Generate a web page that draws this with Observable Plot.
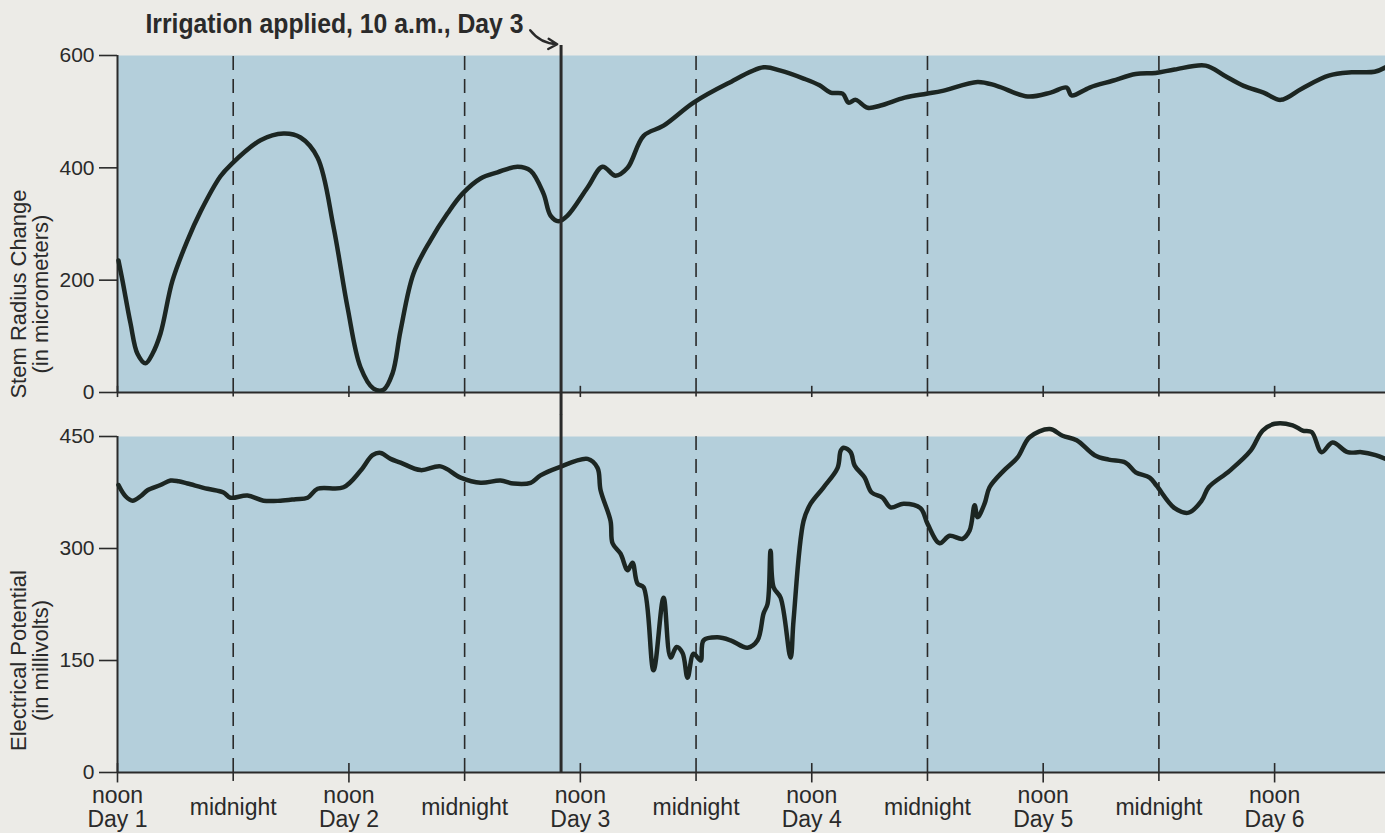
<!DOCTYPE html>
<html><head><meta charset="utf-8">
<script src="https://cdn.jsdelivr.net/npm/d3@7"></script>
<script src="https://cdn.jsdelivr.net/npm/@observablehq/plot@0.6"></script>
<style>
html,body{margin:0;padding:0;background:#ecebe7;}
#chart{width:1385px;height:833px;position:relative;overflow:hidden;background:#ecebe7;}
#chart svg{display:block;}
</style></head><body><div id="chart"></div>
<script>
// x = hours after noon of Day 1
const stemHours = [0.10,0.52,1.35,2.07,2.90,3.63,4.46,5.70,7.26,8.61,10.68,11.72,14.83,17.22,18.98,20.75,22.41,23.86,25.20,26.55,27.59,28.52,29.35,30.70,32.46,34.23,35.78,37.65,39.41,41.49,42.84,44.18,44.91,45.74,46.67,48.75,50.30,51.65,52.90,54.56,56.63,59.74,63.27,67.00,68.77,71.15,72.81,73.95,75.20,75.82,76.55,77.79,79.14,81.63,83.91,85.57,89.20,91.17,94.39,96.77,98.43,98.95,100.82,103.20,105.59,107.66,109.63,112.85,114.82,116.79,118.86,120.63,122.81,125.61,127.99,130.37,131.51];
const stemValues = [235,199,123,69,52,69,105,199,271,322,385,405,449,461,454,418,294,151,45,7,5,34,110,212,271,319,354,381,392,402,395,354,315,305,315,365,402,386,400,457,475,516,550,579,573,559,547,534,532,516,521,507,511,525,532,537,553,546,527,534,543,529,543,555,567,569,575,582,564,546,534,521,541,564,570,571,579];

const epHours = [0.10,0.83,1.56,2.39,3.11,4.46,5.50,6.33,7.26,9.33,10.99,11.72,13.48,15.14,16.91,18.46,19.71,20.75,23.44,25.20,26.45,27.28,28.32,29.35,31.43,33.50,35.58,37.65,39.72,41.07,42.84,43.87,45.64,48.75,49.78,50.10,51.13,51.34,52.17,52.90,53.41,53.93,54.56,55.59,56.63,57.36,57.98,58.60,59.12,59.74,60.47,60.78,62.23,63.58,65.34,66.38,67.00,67.42,67.73,68.04,68.77,69.80,70.11,71.15,71.88,73.23,74.68,75.00,75.31,76.03,76.45,77.48,78.21,79.35,80.17,81.52,83.28,84.01,85.26,86.29,87.64,88.37,88.89,89.20,89.92,90.44,91.89,93.35,94.59,96.67,98.01,99.47,101.33,102.79,104.55,105.59,107.04,107.77,109.63,111.08,112.43,113.16,115.33,117.51,118.76,120.00,121.87,122.91,123.84,124.87,126.01,127.57,129.02,130.47,131.51];
const epValues = [385,370,364,370,378,385,391,390,387,380,375,368,371,364,364,366,368,380,382,404,425,428,420,415,405,410,395,388,391,387,388,398,408,420,408,378,337,307,293,271,281,253,248,137,234,154,168,160,127,159,150,177,181,177,167,177,213,226,297,248,234,154,204,337,360,382,408,431,435,429,411,395,375,368,355,360,354,333,307,317,313,324,358,342,360,382,404,422,449,460,451,445,425,419,415,402,395,384,354,348,364,382,404,431,458,467,465,458,456,429,442,429,429,425,420];

const noonHours = [0, 24, 48, 72, 96, 120];
const midnightHours = [12, 36, 60, 84, 108];
const tickHours = [0, 12, 24, 36, 48, 60, 72, 84, 96, 108, 120];
const tickLabels = ["noon\nDay 1", "midnight", "noon\nDay 2", "midnight", "noon\nDay 3", "midnight", "noon\nDay 4", "midnight", "noon\nDay 5", "midnight", "noon\nDay 6"];
const stemTicks = [0, 200, 400, 600];
const epTicks = [0, 150, 300, 450];
const irrigationHour = 46;
const titleText = "Irrigation applied, 10 a.m., Day 3";
const stemLabel = "Stem Radius Change\n(in micrometers)";
const epLabel = "Electrical Potential\n(in millivolts)";

const font = "'Liberation Sans', Arial, Helvetica, sans-serif";
const ink = "#2a2a2a";
const lineInk = "#1c2622";
const blue = "#b4cfdb";
const xDomain = [0, 131.5];

const stem = stemHours.map((h, i) => ({h, v: stemValues[i]}));
const ep = epHours.map((h, i) => ({h, v: epValues[i]}));

const topPlot = Plot.plot({
  width: 1385, height: 414,
  marginLeft: 117, marginRight: 0, marginTop: 55, marginBottom: 22,
  style: {background: "transparent", fontFamily: font, color: ink, overflow: "visible"},
  x: {domain: xDomain, axis: null},
  y: {domain: [0, 600], axis: null},
  marks: [
    Plot.frame({fill: blue, stroke: null}),
    Plot.ruleX(midnightHours, {y1: 0, y2: 600, stroke: ink, strokeWidth: 1.6, strokeDasharray: "14,9"}),
    Plot.ruleX(midnightHours, {y1: -8, y2: 0, stroke: ink, strokeWidth: 1.6}),
    Plot.ruleX(noonHours, {y1: -9, y2: 11, stroke: ink, strokeWidth: 1.6}),
    Plot.ruleY([0], {stroke: ink, strokeWidth: 2}),
    Plot.ruleX([0], {stroke: ink, strokeWidth: 2}),
    Plot.axisY({ticks: stemTicks, tickSize: 18, tickPadding: 5, fontSize: 21, label: null, strokeWidth: 1.6}),
    Plot.line(stem, {x: "h", y: "v", stroke: lineInk, strokeWidth: 4.5, curve: "catmull-rom"}),
    Plot.ruleX([irrigationHour], {y1: -39.5, y2: 618, stroke: ink, strokeWidth: 3}),
    Plot.text([stemLabel], {frameAnchor: "left", rotate: -90, dx: -88, dy: 70, fontSize: 22, lineAnchor: "middle", textAnchor: "middle", fill: ink}),
    Plot.text([titleText], {x: 2.9, y: 655, textAnchor: "start", lineAnchor: "middle", fontSize: 27, fontWeight: "bold", fill: ink}),
    Plot.arrow([{x1: 42.8, y1: 645, x2: 45.6, y2: 620}], {x1: "x1", y1: "y1", x2: "x2", y2: "y2", bend: -25, stroke: ink, strokeWidth: 2.4, headLength: 12})
  ]
});

// condense the bold title to the reference's narrow width
d3.select(topPlot).selectAll("text")
  .filter(function() { return this.textContent === titleText; })
  .attr("textLength", 378).attr("lengthAdjust", "spacingAndGlyphs");

const bottomPlot = Plot.plot({
  width: 1385, height: 419,
  marginLeft: 117, marginRight: 0, marginTop: 22, marginBottom: 61,
  style: {background: "transparent", fontFamily: font, color: ink, overflow: "visible"},
  x: {domain: xDomain, axis: null},
  y: {domain: [0, 450], axis: null},
  marks: [
    Plot.frame({fill: blue, stroke: null}),
    Plot.ruleX(midnightHours, {y1: 0, y2: 450, stroke: ink, strokeWidth: 1.6, strokeDasharray: "14,9"}),
    Plot.ruleX(midnightHours, {y1: -12, y2: 0, stroke: ink, strokeWidth: 1.6}),
    Plot.ruleX(noonHours, {y1: -14, y2: 12, stroke: ink, strokeWidth: 1.6}),
    Plot.ruleY([0], {stroke: ink, strokeWidth: 2}),
    Plot.ruleX([0], {stroke: ink, strokeWidth: 2}),
    Plot.axisY({ticks: epTicks, tickSize: 18, tickPadding: 5, fontSize: 21, label: null, strokeWidth: 1.6}),
    Plot.axisX({ticks: tickHours, tickFormat: d => tickLabels[tickHours.indexOf(d)], tickSize: 0, tickPadding: 35, lineAnchor: "middle", lineHeight: 1.02, fontSize: 23, label: null}),
    Plot.line(ep, {x: "h", y: "v", stroke: lineInk, strokeWidth: 4.5, curve: "catmull-rom"}),
    Plot.ruleX([irrigationHour], {y1: 0, y2: 479.5, stroke: ink, strokeWidth: 3}),
    Plot.text([epLabel], {frameAnchor: "left", rotate: -90, dx: -88, dy: 56, fontSize: 22, lineAnchor: "middle", textAnchor: "middle", fill: ink})
  ]
});

const chart = document.getElementById("chart");
chart.appendChild(topPlot);
chart.appendChild(bottomPlot);
</script></body></html>
